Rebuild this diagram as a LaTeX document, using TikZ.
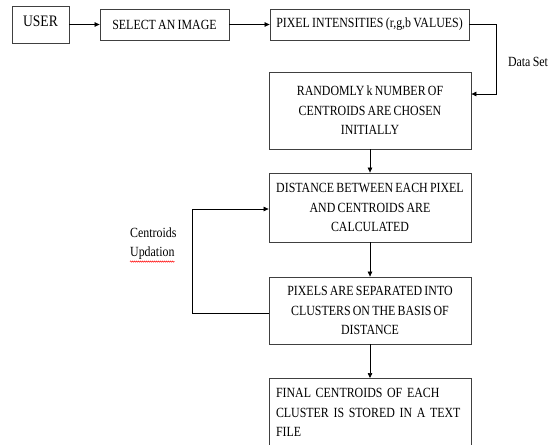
\documentclass[tikz,border=0pt]{standalone}
\usepackage{fontspec}
\setmainfont{Liberation Serif}[FakeStretch=0.85,WordSpace=0.75]
\usetikzlibrary{arrows.meta,calc,decorations.pathmorphing}
\begin{document}
\begin{tikzpicture}[x=1pt,y=-1pt,
  box/.style={draw=black!75,line width=0.8pt,inner sep=0pt,align=center,
    font=\fontsize{14}{19.5}\selectfont},
  conn/.style={line width=0.7pt,-{Triangle[length=5pt,width=4.5pt]}},
  lbl/.style={inner sep=0pt,font=\fontsize{14}{20}\selectfont,align=left}]
\useasboundingbox (0,0) rectangle (553,444);
\node[box,minimum width=57,minimum height=37,font=\fontsize{16}{18}\selectfont,text depth=7pt] (user) at (40.5,24.5) {USER};
\node[box,minimum width=129,minimum height=31] (sel) at (164.5,24.5) {SELECT AN IMAGE};
\node[box,minimum width=199,minimum height=31] (pix) at (369.5,24.5) {PIXEL INTENSITIES (r,g,b VALUES)};
\node[box,minimum width=202,minimum height=77] (rand) at (370,110.5) {RANDOMLY k NUMBER OF\\CENTROIDS ARE CHOSEN\\INITIALLY};
\node[box,minimum width=202,minimum height=69] (dist) at (370,207.5) {DISTANCE BETWEEN EACH PIXEL\\AND CENTROIDS ARE\\CALCULATED};
\node[box,minimum width=202,minimum height=67] (sep) at (370,310.5) {PIXELS ARE SEPARATED INTO\\CLUSTERS ON THE BASIS OF\\DISTANCE};
\node[box,anchor=north,align=left,text width=188,inner xsep=7pt,inner ysep=10pt] (fin) at (370,378) {FINAL CENTROIDS OF EACH\\CLUSTER IS STORED IN A TEXT\\FILE};
\draw[conn] (user) -- (sel);
\draw[conn] (sel) -- (pix);
\draw[conn] (pix.east) -- ++(27,0) |- ($(rand.east)+(0,-16.5)$);
\draw[conn] (rand) -- (dist);
\draw[conn] (dist) -- (sep);
\draw[conn] (sep) -- (fin);
\draw[conn] ($(sep.west)+(0,2.5)$) -- ++(-76,0) |- ($(dist.west)+(0,1.5)$);
\node[lbl] (ds) at (528,62) {Data Set};
\node[lbl,anchor=west] (c1) at (130,233) {Centroids};
\node[lbl,anchor=west] (c2) at (130,253) {Updation};
\draw[red,line width=0.5pt,decorate,decoration={snake,amplitude=0.6pt,segment length=2pt}] ($(c2.south west)+(0,2)$) -- ($(c2.south east)+(0,2)$);
\end{tikzpicture}
\end{document}
